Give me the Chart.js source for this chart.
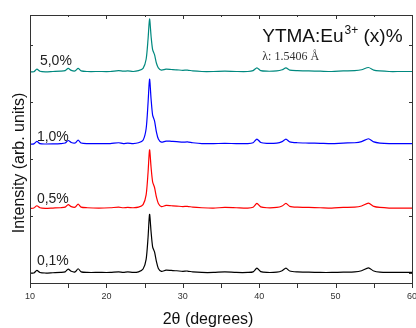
<!DOCTYPE html>
<html>
<head>
<meta charset="utf-8">
<script src="https://cdn.jsdelivr.net/npm/chart.js@4.4.1/dist/chart.umd.min.js"></script>
<style>
html,body{margin:0;padding:0;background:#fff;}
canvas{display:block;}
</style>
</head>
<body>
<canvas id="c" width="416" height="328"></canvas>
<script>
// 2θ positions (degrees)
const twoTheta = [10, 10.5, 10.9, 11.3, 12, 13, 14, 14.6, 15.0, 15.4, 15.9, 16.3, 16.7, 17.5, 19, 20.5, 21.6, 22.2, 22.8, 23.5, 24.2, 24.8, 25.2, 25.45, 25.65, 25.85, 26.05, 26.3, 26.55, 26.8, 27.2, 27.8, 28.5, 29.2, 30, 30.6, 31.3, 32.5, 34, 35.5, 37, 38.5, 39.2, 39.7, 40.2, 41, 42.3, 43.0, 43.5, 44.0, 45, 46.5, 48, 49.5, 51, 52.5, 53.4, 54.3, 55.0, 55.8, 57, 58.5, 60];

// Intensity (arb. units, stacked)
const series01 = [0.00,0.00,0.045,0.01,0.00,0.005,0.01,0.02,0.07,0.03,0.02,0.075,0.02,0.01,0.01,0.01,0.02,0.01,0.02,0.01,0.02,0.07,0.24,0.62,1.03,0.72,0.46,0.37,0.20,0.08,0.03,0.05,0.045,0.04,0.03,0.035,0.02,0.01,0.01,0.02,0.01,0.01,0.02,0.085,0.025,0.01,0.015,0.04,0.085,0.035,0.02,0.015,0.01,0.01,0.015,0.02,0.04,0.09,0.035,0.015,0.01,0.01,0.01];
const series05 = [1.135,1.14,1.18,1.145,1.135,1.14,1.145,1.155,1.20,1.165,1.155,1.21,1.155,1.145,1.14,1.145,1.155,1.145,1.15,1.145,1.155,1.20,1.37,1.76,2.16,1.85,1.60,1.50,1.33,1.22,1.165,1.185,1.18,1.175,1.165,1.17,1.155,1.145,1.14,1.15,1.145,1.14,1.155,1.22,1.16,1.145,1.15,1.175,1.22,1.17,1.155,1.15,1.145,1.14,1.15,1.155,1.175,1.225,1.17,1.15,1.14,1.14,1.14];
const series10 = [2.263,2.265,2.31,2.27,2.263,2.265,2.27,2.28,2.325,2.29,2.28,2.33,2.28,2.27,2.27,2.27,2.285,2.27,2.28,2.27,2.285,2.33,2.53,2.98,3.40,3.05,2.77,2.67,2.47,2.35,2.295,2.315,2.31,2.305,2.295,2.30,2.285,2.27,2.27,2.275,2.27,2.27,2.285,2.35,2.29,2.275,2.28,2.305,2.35,2.30,2.285,2.28,2.275,2.27,2.28,2.285,2.305,2.355,2.30,2.28,2.27,2.27,2.27];
const series50 = [3.53,3.53,3.575,3.54,3.53,3.535,3.54,3.55,3.59,3.555,3.545,3.59,3.545,3.535,3.535,3.535,3.55,3.54,3.545,3.535,3.55,3.59,3.75,4.10,4.456,4.15,3.92,3.83,3.68,3.60,3.56,3.575,3.57,3.565,3.555,3.56,3.545,3.535,3.535,3.54,3.535,3.535,3.55,3.60,3.55,3.54,3.545,3.565,3.60,3.56,3.55,3.545,3.54,3.535,3.545,3.55,3.565,3.605,3.56,3.545,3.535,3.535,3.535];

const seriesLabels = ['0,1%', '0,5%', '1,0%', '5,0%'];
const seriesColors = ['#000000', '#ff0000', '#0000ff', '#00897f'];
const xTicks = [10, 20, 30, 40, 50, 60];
const yTicks = [0, 1, 2, 3, 4];
const xTitle = '2θ (degrees)';
const yTitle = 'Intensity (arb. units)';
const titleMain = 'YTMA:Eu';
const titleSup = '3+';
const titleTail = ' (x)%';
const wavelength = 'λ: 1.5406 Å';

const allSeries = [series01, series05, series10, series50];
const datasets = allSeries.map((s, i) => ({
  label: seriesLabels[i],
  data: s.map((v, j) => ({x: twoTheta[j], y: v})),
  borderColor: seriesColors[i],
  borderWidth: 1.2,
  pointRadius: 0,
  tension: 0.25,
  fill: false
}));

const framePlugin = {
  id: 'frame',
  afterDatasetsDraw(chart) {
    const ctx = chart.ctx;
    const a = chart.chartArea;
    const xs = chart.scales.x, ys = chart.scales.y;
    ctx.save();
    ctx.strokeStyle = '#333';
    ctx.lineWidth = 1;
    ctx.strokeRect(Math.round(a.left) + 0.5, Math.round(a.top) + 0.5, Math.round(a.right - a.left), Math.round(a.bottom - a.top));
    ctx.beginPath();
    for (let v = 10; v <= 60; v += 5) {
      const px = Math.round(xs.getPixelForValue(v)) + 0.5;
      const major = v % 10 === 0;
      ctx.moveTo(px, a.bottom); ctx.lineTo(px, a.bottom + 5);
      ctx.moveTo(px, a.top); ctx.lineTo(px, a.top + (major ? 4 : 2));
    }
    yTicks.forEach(v => {
      const py = Math.round(ys.getPixelForValue(v)) + 0.5;
      ctx.moveTo(a.left, py); ctx.lineTo(a.left + 3, py);
      ctx.moveTo(a.right, py); ctx.lineTo(a.right - 3, py);
    });
    ctx.stroke();

    ctx.fillStyle = '#222';
    ctx.font = '14px "Liberation Sans", Arial, sans-serif';
    ctx.textBaseline = 'alphabetic';
    ctx.textAlign = 'left';
    const labelPos = [[10.9, 0.14], [10.9, 1.23], [10.9, 2.32], [11.3, 3.65]];
    labelPos.forEach((p, i) => {
      ctx.fillText(seriesLabels[i], xs.getPixelForValue(p[0]), ys.getPixelForValue(p[1]));
    });

    let tx = xs.getPixelForValue(40.4);
    const ty = ys.getPixelForValue(4.05);
    ctx.fillStyle = '#111';
    ctx.font = '19px "Liberation Sans", Arial, sans-serif';
    ctx.fillText(titleMain, tx, ty);
    tx += ctx.measureText(titleMain).width + 1;
    ctx.font = '12px "Liberation Sans", Arial, sans-serif';
    ctx.fillText(titleSup, tx, ty - 8);
    tx += ctx.measureText(titleSup).width;
    ctx.font = '19px "Liberation Sans", Arial, sans-serif';
    ctx.fillText(titleTail, tx, ty);

    ctx.fillStyle = '#333';
    ctx.font = '12px "Liberation Serif", "Times New Roman", serif';
    ctx.fillText(wavelength, xs.getPixelForValue(40.4), ys.getPixelForValue(3.74));

    ctx.fillStyle = '#111';
    ctx.font = '16px "Liberation Sans", Arial, sans-serif';
    ctx.textAlign = 'center';
    ctx.textBaseline = 'alphabetic';
    ctx.fillText(xTitle, 208, 324);
    ctx.translate(24, 163);
    ctx.rotate(-Math.PI / 2);
    ctx.fillText(yTitle, 0, 0);
    ctx.restore();
  }
};

new Chart(document.getElementById('c'), {
  type: 'line',
  data: { datasets },
  options: {
    responsive: false,
    animation: false,
    devicePixelRatio: 1,
    layout: { padding: { top: 15, right: 4, left: 0, bottom: 0 } },
    plugins: { legend: { display: false }, tooltip: { enabled: false } },
    scales: {
      x: {
        type: 'linear', min: 10, max: 60,
        afterBuildTicks: s => { s.ticks = xTicks.map(v => ({value: v})); },
        ticks: { color: '#333', font: { size: 9, family: '"Liberation Sans", Arial, sans-serif' }, padding: 8, maxRotation: 0, autoSkip: false },
        grid: { display: false, drawTicks: false },
        border: { display: false },
        afterFit: s => { s.height = 45; s.paddingLeft = 0; s.paddingRight = 0; }
      },
      y: {
        type: 'linear', min: -0.175, max: 4.526,
        ticks: { display: false },
        grid: { display: false, drawTicks: false },
        border: { display: false },
        afterFit: s => { s.width = 30; s.paddingTop = 0; s.paddingBottom = 0; }
      }
    }
  },
  plugins: [framePlugin]
});
</script>
</body>
</html>
